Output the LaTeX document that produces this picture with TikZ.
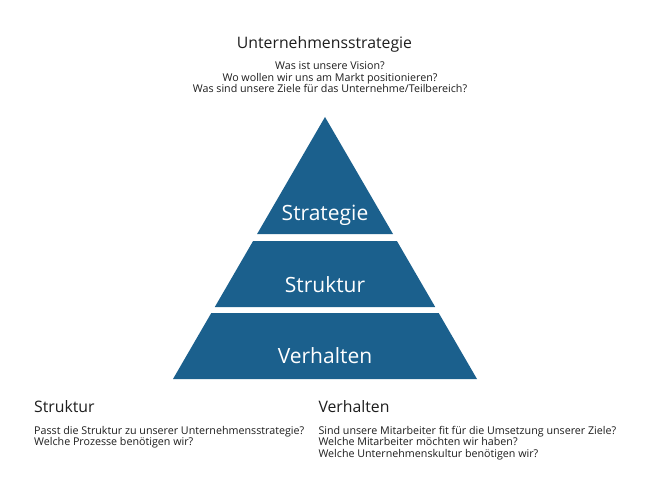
\documentclass[tikz,border=0pt]{standalone}
\usepackage{fontspec}
\setmainfont{Open Sans}
\definecolor{pyr}{RGB}{27,96,141}
\definecolor{ink}{RGB}{30,30,30}
\begin{document}
\begin{tikzpicture}[x=1pt,y=-1pt,
  tier/.style={fill=pyr},
  tierlabel/.style={font=\fontsize{21}{25}\selectfont, text=white, inner sep=0pt, anchor=base},
  heading/.style={font=\fontsize{15.8}{18}\selectfont, text=ink, inner sep=0pt},
  question/.style={font=\fontsize{10.7}{11.6}\selectfont, text=ink, inner sep=0pt}]
\useasboundingbox (0,0) rectangle (650,500);
\fill[white] (0,0) rectangle (650,500);
% pyramid tiers
\fill[tier] (325,117) -- (393,234) -- (257.1,234) -- cycle;
\fill[tier] (253.1,241) -- (396.9,241) -- (435.2,307) -- (214.8,307) -- cycle;
\fill[tier] (211.3,313) -- (438.7,313) -- (477,379) -- (173,379) -- cycle;
\node[tierlabel] (lstrat) at (325,220) {Strategie};
\node[tierlabel] (lstruk) at (325,292.7) {Struktur};
\node[tierlabel] (lverh) at (325,363.3) {Verhalten};
% top text (base anchor = last line)
\node[heading, anchor=base] (hstrat) at (324.5,48.3) {Unternehmensstrategie};
\node[question, anchor=base, align=center] (qstrat) at (330,92.7)
  {Was ist unsere Vision?\\Wo wollen wir uns am Markt positionieren?\\Was sind unsere Ziele für das Unternehme/Teilbereich?};
% bottom left
\node[heading, anchor=base west] (hstruk) at (34,412.7) {Struktur};
\node[question, anchor=base west, align=left] (qstruk) at (34,445.8)
  {Passt die Struktur zu unserer Unternehmensstrategie?\\Welche Prozesse benötigen wir?};
% bottom right
\node[heading, anchor=base west] (hverh) at (318.3,412.7) {Verhalten};
\node[question, anchor=base west, align=left] (qverh) at (318.3,457.3)
  {Sind unsere Mitarbeiter fit für die Umsetzung unserer Ziele?\\Welche Mitarbeiter möchten wir haben?\\Welche Unternehmenskultur benötigen wir?};
\end{tikzpicture}
\end{document}
